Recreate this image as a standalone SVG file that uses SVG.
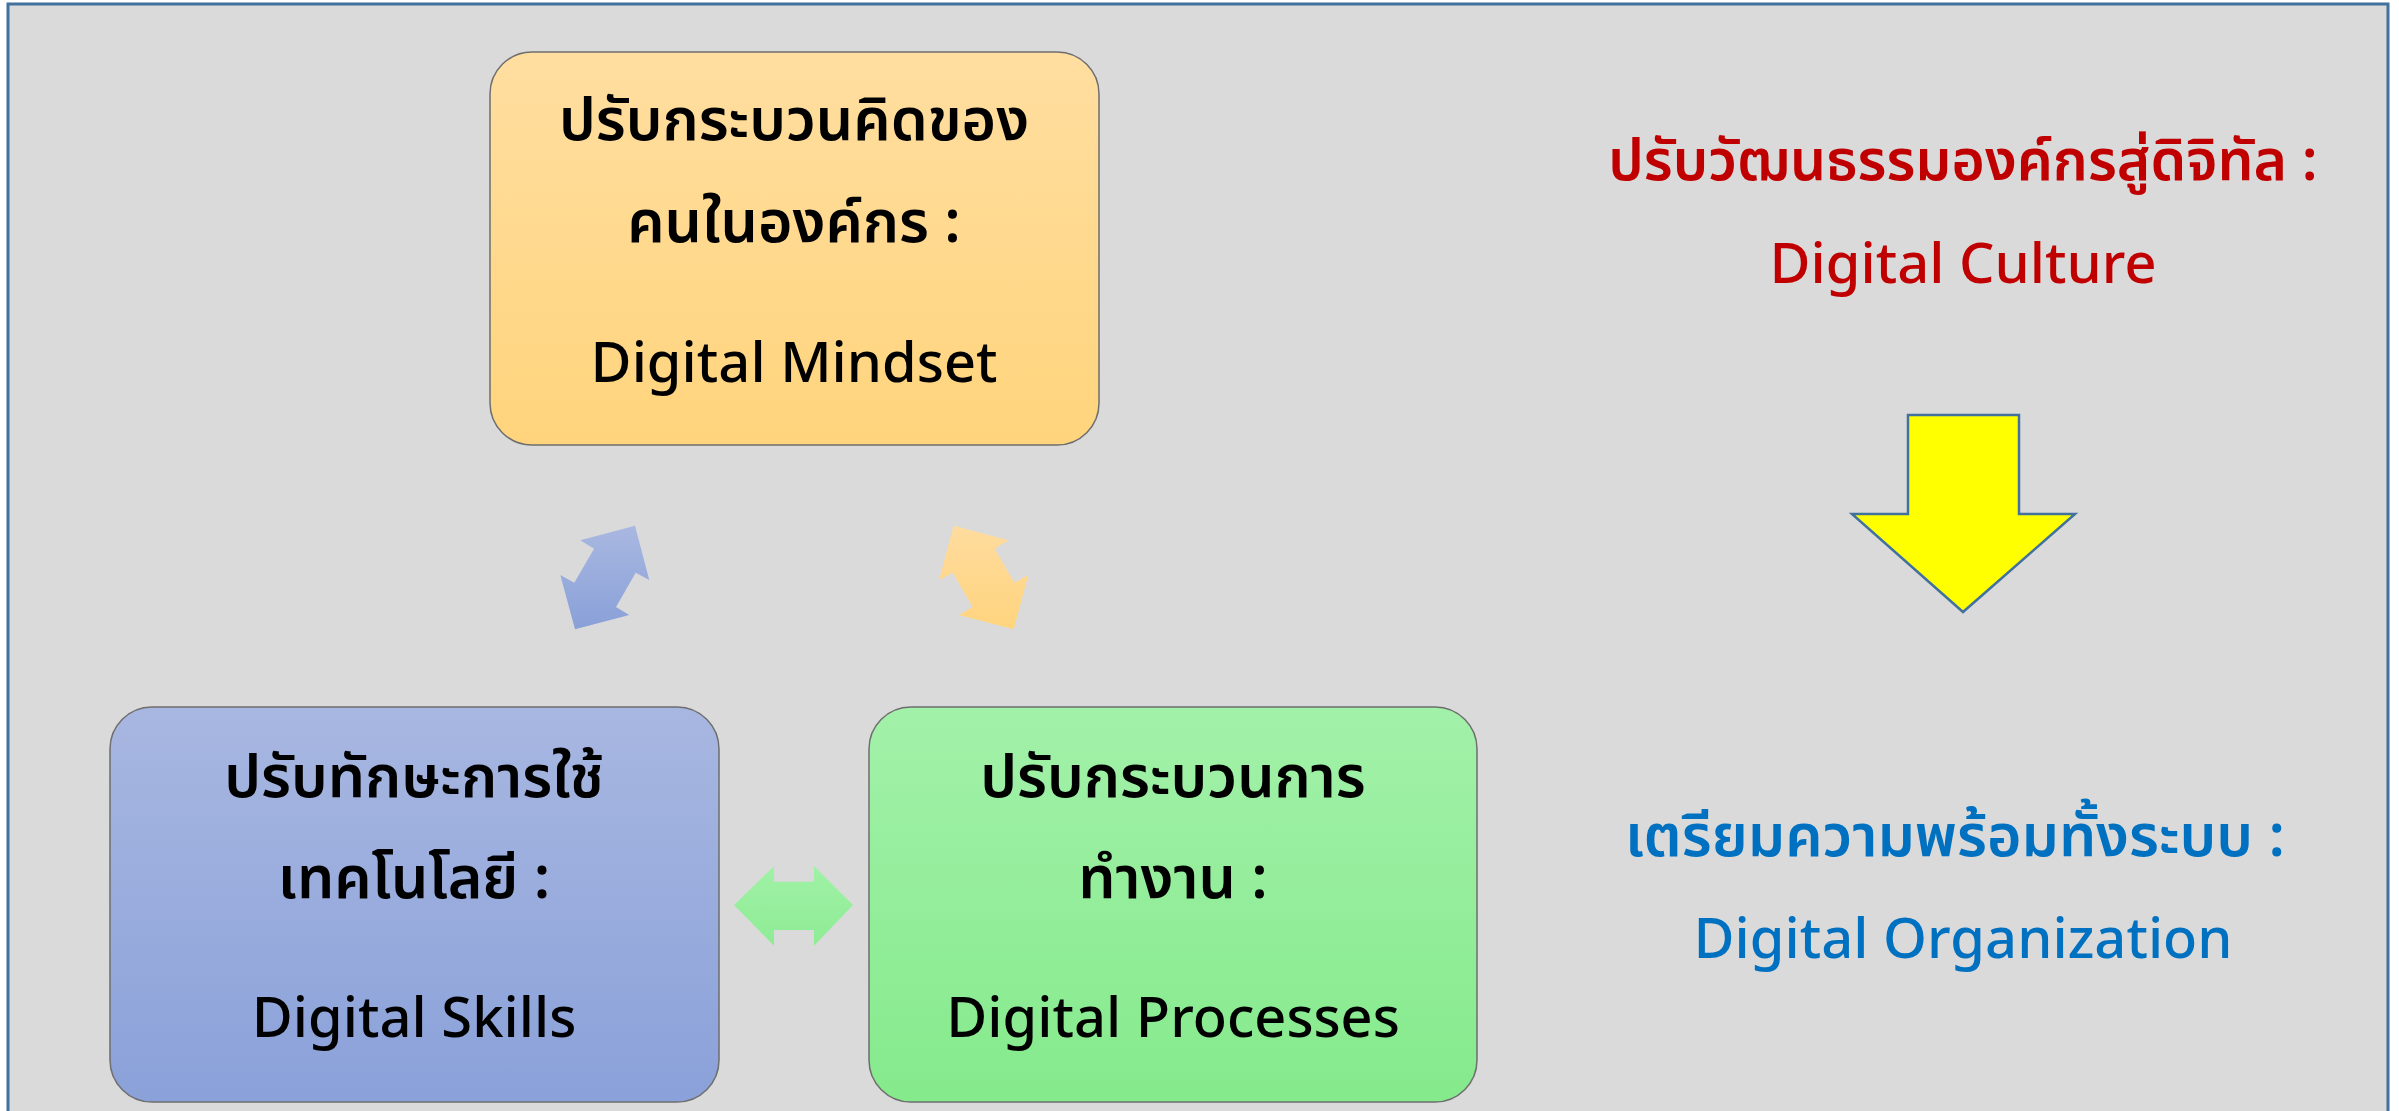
<svg xmlns="http://www.w3.org/2000/svg" width="2399" height="1111" viewBox="0 0 2399 1111">
<defs>
<linearGradient id="gOrange" x1="0" y1="0" x2="0" y2="1"><stop offset="0" stop-color="#FFDEA0"/><stop offset="1" stop-color="#FFD47C"/></linearGradient>
<linearGradient id="gBlue" x1="0" y1="0" x2="0" y2="1"><stop offset="0" stop-color="#A8B7E1"/><stop offset="1" stop-color="#8AA1D9"/></linearGradient>
<linearGradient id="gGreen" x1="0" y1="0" x2="0" y2="1"><stop offset="0" stop-color="#A2F1A9"/><stop offset="1" stop-color="#85EA8C"/></linearGradient>
<linearGradient id="gBlueArr" x1="0" y1="0" x2="0" y2="1"><stop offset="0" stop-color="#A9B8E1"/><stop offset="1" stop-color="#89A0D8"/></linearGradient>
<linearGradient id="gOrangeArr" x1="0" y1="0" x2="0" y2="1"><stop offset="0" stop-color="#FFDC9E"/><stop offset="1" stop-color="#FFD47E"/></linearGradient>
<linearGradient id="gGreenArr" x1="0" y1="0" x2="0" y2="1"><stop offset="0" stop-color="#A0F1A6"/><stop offset="1" stop-color="#8EEC94"/></linearGradient>
</defs>
<style>
.box{stroke:#6E6E6E;stroke-width:1.5}
.t{font-family:"Noto Sans Thai","Noto Sans Thai UI","Noto Sans","DejaVu Sans",sans-serif;text-anchor:middle;font-size:56px;font-weight:500;fill:#000}
.th{font-size:59px;font-weight:600}
.red{fill:#C00000}
.blue{fill:#0070C0}
</style>
<rect x="0" y="0" width="2399" height="1111" fill="#FFFFFF"/>
<rect x="8" y="4" width="2380" height="1120" fill="#DADADA" stroke="#41719C" stroke-width="3"/>

<g id="node-mindset">
<rect class="box" x="490" y="52" width="609" height="393" rx="42" fill="url(#gOrange)"/>
<text class="t th" x="794" y="140">ปรับกระบวนคิดของ</text>
<text class="t th" x="794" y="242">คนในองค์กร :</text>
<text class="t" x="794" y="382">Digital Mindset</text>
</g>

<g id="node-skills">
<rect class="box" x="110" y="707" width="609" height="395" rx="42" fill="url(#gBlue)"/>
<text class="t th" x="414" y="797">ปรับทักษะการใช้</text>
<text class="t th" x="414" y="898">เทคโนโลยี :</text>
<text class="t" x="414" y="1037">Digital Skills</text>
</g>

<g id="node-processes">
<rect class="box" x="869" y="707" width="608" height="395" rx="42" fill="url(#gGreen)"/>
<text class="t th" x="1173" y="797">ปรับกระบวนการ</text>
<text class="t th" x="1173" y="898">ทำงาน :</text>
<text class="t" x="1173" y="1037">Digital Processes</text>
</g>

<g id="node-culture">
<text class="t th red" x="1963" y="180" style="font-size:57px">ปรับวัฒนธรรมองค์กรสู่ดิจิทัล :</text>
<text class="t red" x="1963" y="283">Digital Culture</text>
</g>

<g id="node-organization">
<text class="t th blue" x="1955" y="856">เตรียมความพร้อมทั้งระบบ :</text>
<text class="t blue" x="1963" y="958">Digital Organization</text>
</g>

<g id="connectors">
<polygon fill="url(#gBlueArr)" points="635,525.7 649.3,580 635.7,572.7 616,607 629.3,615 575,629.3 560.3,575 574.3,582.7 594,548.7 580.3,540.3"/>
<polygon fill="url(#gOrangeArr)" points="953.7,525.7 1008.3,540.3 994.7,548.7 1014.3,582.7 1028.3,575 1013.7,629.3 959,615 972.7,607 952.7,572.7 939,580"/>
<polygon fill="url(#gGreenArr)" points="734,905 774,866 774,881.7 814,881.7 814,866 853,905 814,945.7 814,930 774,930 774,945.7"/>
<polygon fill="#FFFF00" stroke="#41719C" stroke-width="2.5" points="1908,415 2019,415 2019,514 2075,514 1963,612 1852,514 1908,514"/>
</g>
</svg>
